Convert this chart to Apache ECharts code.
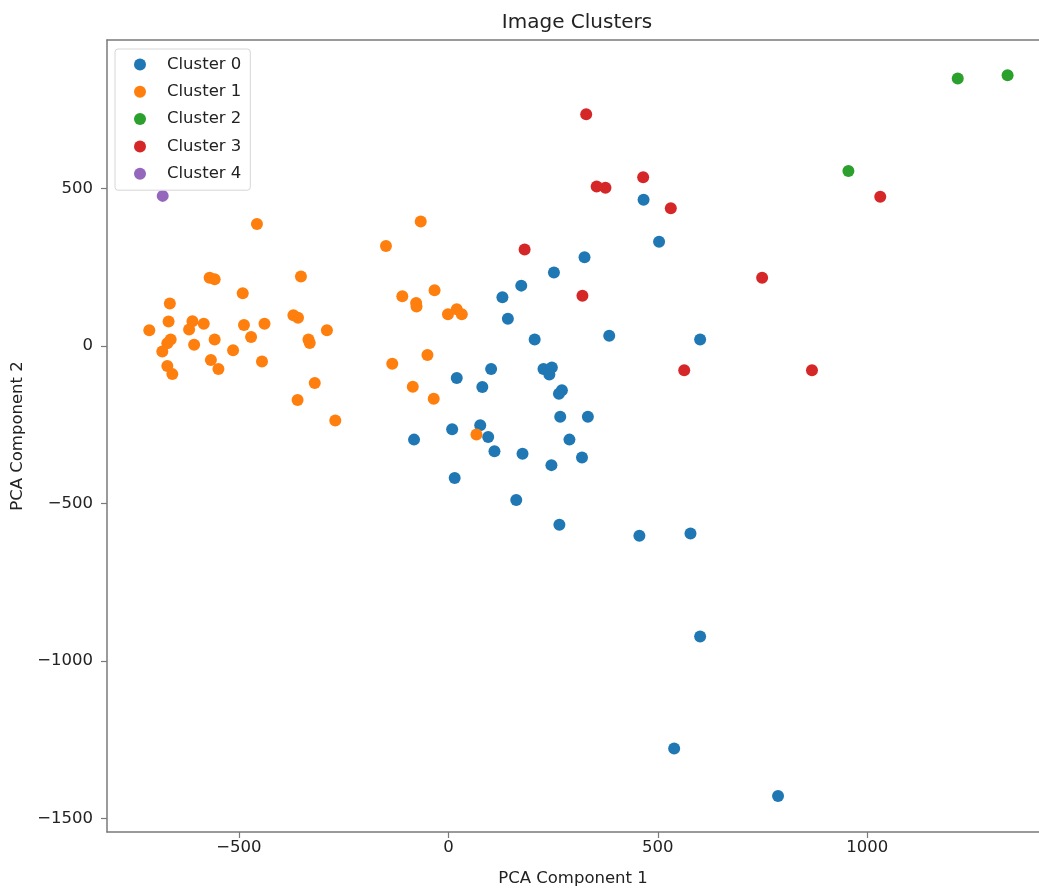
<!DOCTYPE html>
<html>
<head>
<meta charset="utf-8">
<title>Image Clusters</title>
<script src="https://cdn.jsdelivr.net/npm/echarts@6/dist/echarts.min.js"></script>
<style>
  html, body { margin: 0; padding: 0; background: #fff; }
  #chart { width: 1039px; height: 888px; }
</style>
</head>
<body>
<div id="chart"></div>
<script>
// PCA points per cluster, [component 1, component 2]
const cluster0 = [
  [466, 465], [503, 331], [325, 282], [252, 234], [174, 192], [129, 155],
  [142, 87], [384, 33], [601, 21], [206, 21], [102, -73], [20, -101],
  [81, -130], [227, -73], [247, -68], [241, -90], [271, -140], [264, -151],
  [267, -224], [333, -224], [9, -264], [76, -251], [95, -289], [-82, -297],
  [289, -297], [110, -334], [177, -342], [319, -354], [246, -378], [15, -419],
  [162, -489], [265, -567], [456, -602], [578, -595], [601, -922],
  [539, -1278], [787, -1429]
];
const cluster1 = [
  [-457, 388], [-66, 396], [-149, 318], [-570, 217], [-558, 212], [-352, 221],
  [-491, 168], [-110, 158], [-33, 177], [-77, 137], [-76, 126], [-665, 135],
  [-1, 101], [20, 117], [32, 101], [-370, 98], [-359, 90], [-668, 78],
  [-611, 79], [-619, 53], [-584, 71], [-714, 50], [-488, 67], [-439, 71],
  [-290, 50], [-334, 21], [-331, 10], [-558, 21], [-471, 29], [-663, 21],
  [-671, 9], [-683, -17], [-607, 4], [-514, -13], [-567, -44], [-549, -73],
  [-445, -49], [-671, -63], [-659, -89], [-50, -28], [-134, -56],
  [-319, -117], [-85, -129], [-360, -171], [-35, -167], [-270, -236],
  [67, -281]
];
const cluster2 = [[1216, 850], [1335, 860], [955, 556]];
const cluster3 = [
  [329, 736], [354, 507], [375, 503], [465, 536], [531, 438], [182, 307],
  [320, 160], [749, 217], [1031, 474], [563, -77], [868, -77]
];
const cluster4 = [[-682, 477]];

const clusterNames = ['Cluster 0', 'Cluster 1', 'Cluster 2', 'Cluster 3', 'Cluster 4'];
const clusterColors = ['#1f77b4', '#ff7f0e', '#2ca02c', '#d62728', '#9467bd'];
const xTicks = [-500, 0, 500, 1000];
const yTicks = [-1500, -1000, -500, 0, 500];

const font = 'DejaVu Sans';
const textColor = '#222';
const spineColor = '#7a7a7a';

let chart = echarts.init(document.getElementById('chart'), null, { renderer: 'canvas' });

let clusters = [cluster0, cluster1, cluster2, cluster3, cluster4];
let series = clusters.map(function (pts, i) {
  return {
    name: clusterNames[i],
    type: 'scatter',
    symbol: 'circle',
    symbolSize: 12,
    xAxisIndex: 0,
    yAxisIndex: 0,
    itemStyle: { color: clusterColors[i], opacity: 1 },
    emphasis: { disabled: true },
    data: pts
  };
});

function fmt(v) {
  // matplotlib uses a real minus sign
  return v < 0 ? '\u2212' + Math.abs(v) : String(v);
}

const xMin = -815, xMax = 1410;
const yMin = -1543, yMax = 972;

let option = {
  animation: false,
  backgroundColor: '#fff',
  title: {
    text: 'Image Clusters',
    left: 572,
    top: 8,
    textAlign: 'center',
    textStyle: { fontFamily: font, fontSize: 20, fontWeight: 'normal', color: textColor }
  },
  legend: {
    orient: 'vertical',
    left: 115,
    top: 49,
    padding: [7, 9, 8, 19],
    itemWidth: 44,
    itemHeight: 12,
    itemGap: 10.3,
    icon: 'circle',
    backgroundColor: '#fff',
    borderColor: '#d6d6d6',
    borderWidth: 1,
    borderRadius: 3,
    data: clusterNames,
    textStyle: { fontFamily: font, fontSize: 16.5, color: textColor }
  },
  grid: {
    left: 107,
    right: 0,
    top: 40,
    bottom: 56,
    outerBoundsMode: 'none',
    show: false
  },
  xAxis: [
    {
      type: 'value',
      position: 'bottom',
      min: xMin,
      max: xMax,
      name: 'PCA Component 1',
      nameLocation: 'middle',
      nameGap: 38,
      nameTextStyle: { fontFamily: font, fontSize: 16.5, color: textColor },
      axisLine: { show: true, onZero: false, lineStyle: { color: spineColor, width: 1.5 } },
      axisTick: {
        show: true, length: 6, customValues: xTicks,
        lineStyle: { color: spineColor, width: 1.2 }
      },
      axisLabel: {
        margin: 7, customValues: xTicks, formatter: fmt,
        fontFamily: font, fontSize: 16.5, color: textColor
      },
      splitLine: { show: false }
    },
    {
      // top spine only
      type: 'value',
      position: 'top',
      min: xMin,
      max: xMax,
      axisLine: { show: true, onZero: false, lineStyle: { color: spineColor, width: 1.5 } },
      axisTick: { show: false },
      axisLabel: { show: false },
      splitLine: { show: false }
    }
  ],
  yAxis: {
    type: 'value',
    min: yMin,
    max: yMax,
    name: 'PCA Component 2',
    nameLocation: 'middle',
    nameGap: 68,
    nameTextStyle: { fontFamily: font, fontSize: 16.5, color: textColor },
    axisLine: { show: true, onZero: false, lineStyle: { color: spineColor, width: 1.5 } },
    axisTick: {
      show: true, length: 6, customValues: yTicks,
      lineStyle: { color: spineColor, width: 1.2 }
    },
    axisLabel: {
      margin: 14, customValues: yTicks, formatter: fmt,
      fontFamily: font, fontSize: 16.5, color: textColor
    },
    splitLine: { show: false }
  },
  series: series
};

chart.setOption(option, true);
</script>
</body>
</html>
